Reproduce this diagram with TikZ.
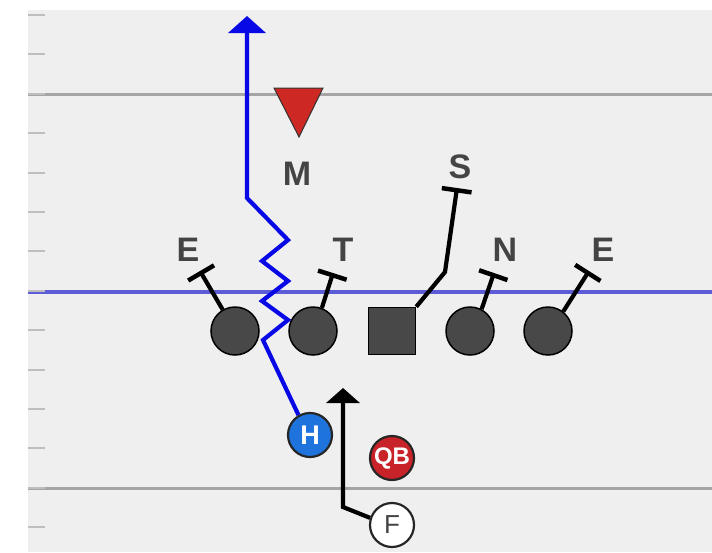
\documentclass[tikz,border=0pt]{standalone}
\usepackage{fontspec}
\setmainfont{Liberation Sans}
\usetikzlibrary{arrows.meta,positioning}
\definecolor{turf}{RGB}{239,239,239}
\definecolor{yardGray}{RGB}{165,165,165}
\definecolor{hashGray}{RGB}{190,190,190}
\definecolor{losBlue}{RGB}{92,92,214}
\definecolor{routeBlue}{RGB}{8,8,230}
\definecolor{manFill}{RGB}{72,72,72}
\definecolor{hBlue}{RGB}{30,115,220}
\definecolor{qbRed}{RGB}{200,35,40}
\definecolor{mRed}{RGB}{205,40,35}
\definecolor{inkText}{RGB}{68,68,68}

\begin{document}
\begin{tikzpicture}[x=1pt,y=-1pt,
  lineman/.style={circle,draw=black,line width=1.5pt,fill=manFill,minimum size=48pt,inner sep=0pt},
  snapper/.style={rectangle,draw=black,line width=1.5pt,fill=manFill,minimum size=47pt,inner sep=0pt},
  back/.style={circle,draw=black!85,line width=2.2pt,minimum size=44pt,inner sep=0pt,
    font=\fontsize{27}{27}\selectfont\bfseries,text=white},
  deflab/.style={font=\fontsize{34}{34}\selectfont\bfseries,text=inkText},
  block/.style={-{Bar[width=30pt,line width=4.5pt]},line width=4.2pt},
  route/.style={-{Triangle[width=37pt,length=17pt]},line width=4.2pt}]
  \useasboundingbox (0,0) rectangle (712,552);
  % field, yard lines, line of scrimmage, hash ticks
  \fill[white] (0,0) rectangle (712,552);
  \fill[turf] (28,10) rectangle (712,552);
  \draw[yardGray,line width=3pt] (28,94) -- (712,94);
  \draw[yardGray,line width=3pt] (28,488) -- (712,488);
  \draw[losBlue,line width=4pt] (28,292) -- (712,292);
  \foreach \i in {0,...,13}
    \draw[hashGray,line width=2pt] (28,15+39.4*\i) -- (45,15+39.4*\i);
  % offense: line and backs
  \node[lineman] (lg) at (235,331) {};
  \node[lineman] (lt) at (313,331) {};
  \node[snapper] (c) at (392,331) {};
  \node[lineman] (rg) at (470,331) {};
  \node[lineman] (rt) at (548,331) {};
  \node[back,fill=hBlue] (h) at (310,435) {H};
  \node[back,fill=qbRed,font=\fontsize{24}{24}\selectfont\bfseries] (qb) at (392,458) {QB};
  \node[back,fill=white,text=inkText,font=\fontsize{26}{26}\selectfont] (f) at (392,525) {F};
  % defense labels + mike
  \node[deflab] (endL) at (188,250) {E};
  \node[deflab] (tackle) at (343,250) {T};
  \node[deflab] (sam) at (460,167) {S};
  \node[deflab] (nose) at (505,250) {N};
  \node[deflab] (endR) at (603,250) {E};
  \node[deflab] (mike) at (297,174) {M};
  \filldraw[fill=mRed,draw=black!80,line width=1pt] (274,88) -- (323,88) -- (299,137) -- cycle;
  % blocks
  \draw[block] (lg.120) -- (200,271);
  \draw[block] (lt.69) -- (333,273);
  \draw[block] (c.north east) -- (445,272) -- (457,188);
  \draw[block] (rg.62) -- (494,273);
  \draw[block] (rt.52) -- (589,271);
  % routes
  \draw[route,routeBlue] (h.120) -- (263,340) -- (288,320) -- (262,301) -- (288,281)
    -- (262,261) -- (288,240) -- (247,198) -- (247,16);
  \draw[route,-{Triangle[width=33pt,length=15pt]}] (f.162) -- (343,507) -- (343,388);
\end{tikzpicture}
\end{document}
